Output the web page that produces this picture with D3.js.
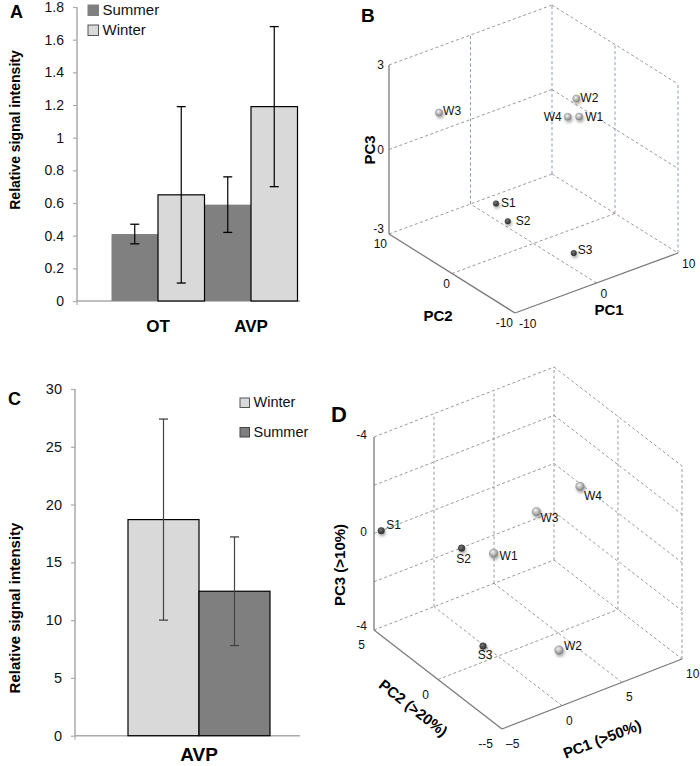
<!DOCTYPE html>
<html><head><meta charset="utf-8">
<script src="https://cdn.jsdelivr.net/npm/d3@7"></script>
<style>
body{margin:0;background:#fff;}
svg text{font-family:"Liberation Sans",Arial,Helvetica,sans-serif;}
</style></head>
<body><svg id="fig" width="700" height="766"></svg>
<script>
// ---------- DATA ----------
// Panel A
const catsA = ["OT", "AVP"];
const seriesA = ["Summer", "Winter"];
const summerA = [0.41, 0.59];
const summerAErr = [0.06, 0.17];
const winterA = [0.65, 1.19];
const winterAErr = [0.54, 0.49];
const ticksA = [0, 0.2, 0.4, 0.6, 0.8, 1, 1.2, 1.4, 1.6, 1.8];
// Panel C
const catsC = ["AVP"];
const seriesC = ["Winter", "Summer"];
const winterC = [18.7];
const winterCErr = [8.7];
const summerC = [12.5];
const summerCErr = [4.7];
const ticksC = [0, 5, 10, 15, 20, 25, 30];
// Panel B (PCA scores)
const namesB = ["W3", "W2", "W4", "W1", "S1", "S2", "S3"];
const pc1B = [-5.4, 6.8, 4.2, 5.6, -4.6, -4.7, 0.3];
const pc2B = [8, 2, 0, 0, 0, -2, -6];
const pc3B = [1.1, 1.14, 1.05, 0.91, -1.09, -1.43, -2.53];
const ticksB1 = [-10, 0, 10], ticksB2 = [-10, 0, 10], ticksB3 = [-3, 0, 3];
// Panel D (PCA scores)
const namesD = ["S1", "S2", "W1", "W3", "W4", "S3", "W2"];
const pc1D = [-4.4, -0.9, 0.7, 6.4, 7.9, -1.25, 2.95];
const pc2D = [5, 2, 1, 3, 1, 0, -2];
const pc3D = [0, 0.17, 0.28, 0.48, -1.1, 3.34, 3.5];
const ticksD1 = [-5, 0, 5, 10], tickLabD1 = ["\u20135", "0", "5", "10"];
const ticksD2 = [5, 0, -5], tickLabD2 = ["5", "0", "--5"];
const ticksD3 = [-4, 0, 4], tickLabD3 = ["-4", "0", "-4"];
const gridD3 = [-4, -2, 0, 2, 4];

const FONT = '"Liberation Sans",Arial,Helvetica,sans-serif';
const svg = d3.select("#fig");
const defs = svg.append("defs");
const g1 = defs.append("radialGradient").attr("id","wball").attr("cx","40%").attr("cy","35%").attr("r","65%");
g1.append("stop").attr("offset","0%").attr("stop-color","#f2f2f2");
g1.append("stop").attr("offset","60%").attr("stop-color","#b0b0b0");
g1.append("stop").attr("offset","100%").attr("stop-color","#808080");
const g2 = defs.append("radialGradient").attr("id","sball").attr("cx","40%").attr("cy","35%").attr("r","65%");
g2.append("stop").attr("offset","0%").attr("stop-color","#777");
g2.append("stop").attr("offset","100%").attr("stop-color","#2b2b2b");
const f = defs.append("filter").attr("id","shadow").attr("x","-100%").attr("y","-100%").attr("width","300%").attr("height","300%");
f.append("feDropShadow").attr("dx",1).attr("dy",2).attr("stdDeviation",1.6).attr("flood-color","#000").attr("flood-opacity",0.35);

// ---------- BAR PANEL ----------
function barPanel(o){
  const g = svg.append("g");
  const y = d3.scaleLinear().domain(o.yDomain).range(o.yRange);
  const x = d3.scaleBand().domain(o.cats).range(o.xRange).padding(0);
  const xs = d3.scaleBand().domain(o.series).range([0, x.bandwidth()]).padding(0);
  const ax = g.append("g").attr("transform",`translate(${o.axisX},0)`)
    .call(d3.axisLeft(y).tickValues(o.ticks).tickSize(4).tickPadding(9).tickFormat(d=>String(d)));
  ax.select(".domain").remove();
  ax.selectAll(".tick line").attr("stroke","#aaa").attr("stroke-width",1.2);
  ax.selectAll(".tick text").attr("font-size",o.tickSize).attr("font-family",FONT).attr("fill","#111");
  g.append("line").attr("x1",o.axisX).attr("x2",o.axisX).attr("y1",y(o.yDomain[0])).attr("y2",y(o.yDomain[1]))
    .attr("stroke","#aaa").attr("stroke-width",1.5);
  g.append("line").attr("x1",o.axisX).attr("x2",o.axisEnd).attr("y1",y(0)).attr("y2",y(0))
    .attr("stroke","#aaa").attr("stroke-width",1.5);
  g.append("line").attr("x1",o.axisX).attr("x2",o.axisX).attr("y1",y(0)).attr("y2",y(0)+4).attr("stroke","#aaa").attr("stroke-width",1.2);
  o.series.forEach((s,si)=>{
    const vals = o.values[si], st = o.styles[si];
    o.cats.forEach((c,ci)=>{
      const x0 = x(c)+xs(s), w = xs.bandwidth();
      g.append("rect").attr("x",x0).attr("y",y(vals[ci])).attr("width",w).attr("height",y(0)-y(vals[ci]))
        .attr("fill",st.fill).attr("stroke",st.stroke).attr("stroke-width",st.stroke==="none"?0:1.2);
    });
  });
  o.series.forEach((s,si)=>{
    const vals = o.values[si], errs = o.errors[si];
    o.cats.forEach((c,ci)=>{
      const cx = x(c)+xs(s)+xs.bandwidth()/2;
      const hi = y(vals[ci]+errs[ci]), lo = y(vals[ci]-errs[ci]);
      g.append("line").attr("x1",cx).attr("x2",cx).attr("y1",hi).attr("y2",lo).attr("stroke",o.errColor).attr("stroke-width",1.2);
      [hi,lo].forEach(yy=>g.append("line").attr("x1",cx-4.5).attr("x2",cx+4.5).attr("y1",yy).attr("y2",yy).attr("stroke",o.errColor).attr("stroke-width",1.3));
    });
  });
  o.cats.forEach(c=>{
    g.append("text").attr("x",x(c)+x.bandwidth()/2).attr("y",o.catY).attr("text-anchor","middle")
      .attr("font-weight","bold").attr("font-size",o.catSize).text(c);
  });
  g.append("text").attr("transform",`translate(${o.titleX},${o.titleY}) rotate(-90)`).attr("text-anchor","middle")
    .attr("font-weight","bold").attr("font-size",o.titleSize).text("Relative signal intensity");
  o.legend.forEach((L,i)=>{
    const st = o.styles[o.series.indexOf(L)];
    g.append("rect").attr("x",o.legX).attr("y",o.legY+i*o.legGap).attr("width",o.legBox).attr("height",o.legBox)
      .attr("fill",st.fill).attr("stroke",st.legStroke).attr("stroke-width",1);
    g.append("text").attr("x",o.legX+o.legBox+4).attr("y",o.legY+i*o.legGap+o.legBox-0.5)
      .attr("font-size",o.legSize).attr("fill","#111").text(L);
  });
  g.append("text").attr("x",o.letterX).attr("y",o.letterY).attr("font-weight","bold").attr("font-size",o.letterSize).text(o.letter);
}

barPanel({
  cats: catsA, series: seriesA, values:[summerA, winterA], errors:[summerAErr, winterAErr],
  styles:[{fill:"#808080",stroke:"none",legStroke:"#808080"},{fill:"#d9d9d9",stroke:"#000",legStroke:"#555"}],
  yDomain:[0,1.8], yRange:[301,7], ticks:ticksA, tickSize:14, xRange:[111.5,297.5], axisX:77, axisEnd:300,
  errColor:"#000", catY:332, catSize:17, titleX:20, titleY:130, titleSize:14,
  legend:["Summer","Winter"], legX:88, legY:5, legGap:20, legBox:10.5, legSize:15,
  letter:"A", letterX:10, letterY:18, letterSize:18
});
barPanel({
  cats: catsC, series: seriesC, values:[winterC, summerC], errors:[winterCErr, summerCErr],
  styles:[{fill:"#d9d9d9",stroke:"#000",legStroke:"#555"},{fill:"#7f7f7f",stroke:"#000",legStroke:"#444"}],
  yDomain:[0,30], yRange:[735.7,389], ticks:ticksC, tickSize:14.5, xRange:[128,270], axisX:75, axisEnd:300,
  errColor:"#444", catY:761, catSize:19, titleX:20, titleY:608, titleSize:15,
  legend:["Winter","Summer"], legX:240, legY:398, legGap:29.5, legBox:9.5, legSize:14.5,
  letter:"C", letterX:8, letterY:405, letterSize:18
});

// ---------- 3D PANEL ----------
function pca3D(o){
  const g = svg.append("g");
  const s1 = d3.scaleLinear().domain(o.d1).range([0,1]);
  const s2 = d3.scaleLinear().domain(o.d2).range([0,1]);
  const s3 = d3.scaleLinear().domain(o.d3).range([0,1]);
  const P = (p1,p2,p3)=>{
    const a=s1(p1), b=s2(p2), c=s3(p3);
    return [o.front[0]+a*o.e1[0]+b*o.e2[0]+c*o.e3[0], o.front[1]+a*o.e1[1]+b*o.e2[1]+c*o.e3[1]];
  };
  const seg = (A,B,color,dash,w)=>g.append("line").attr("x1",A[0]).attr("y1",A[1]).attr("x2",B[0]).attr("y2",B[1])
    .attr("stroke",color).attr("stroke-width",w||0.9).attr("stroke-dasharray",dash||null);
  const [a1lo,a1hi]=o.d1, [a2lo,a2hi]=o.d2, [a3lo,a3hi]=o.d3;
  const D = o.dash;
  o.grid3.forEach(v=>seg(P(a1lo,a2hi,v),P(a1hi,a2hi,v),o.gridColor,D));
  o.grid3.forEach(v=>seg(P(a1hi,a2hi,v),P(a1hi,a2lo,v),o.gridColor,D));
  o.vert1.forEach(v=>seg(P(v,a2hi,a3lo),P(v,a2hi,a3hi),o.vertColor,D));
  o.vert2.forEach(v=>seg(P(a1hi,v,a3lo),P(a1hi,v,a3hi),o.vertColor,D));
  o.floor1.forEach(v=>seg(P(v,a2lo,a3lo),P(v,a2hi,a3lo),o.gridColor,D));
  o.floor2.forEach(v=>seg(P(a1lo,v,a3lo),P(a1hi,v,a3lo),o.gridColor,D));
  seg(P(a1lo,a2hi,a3lo),P(a1lo,a2hi,a3hi),"#7a7a7a",null,1.3);
  seg(P(a1lo,a2lo,a3lo),P(a1lo,a2hi,a3lo),"#7a7a7a",null,1.3);
  seg(P(a1lo,a2lo,a3lo),P(a1hi,a2lo,a3lo),"#7a7a7a",null,1.3);
  const tl = (pt,txt,anchor,dx,dy)=>g.append("text").attr("x",pt[0]+dx).attr("y",pt[1]+dy)
    .attr("text-anchor",anchor).attr("font-size",o.tickSize).attr("fill","#111").text(txt);
  o.t3.forEach((v,i)=>tl(P(a1lo,a2hi,v),o.l3[i],"end",o.t3dx,(o.t3dy[i])));
  o.t2.forEach((v,i)=>tl(P(a1lo,v,a3lo),o.l2[i],"end",o.t2dx,o.t2dy));
  o.t1.forEach((v,i)=>tl(P(v,a2lo,a3lo),o.l1[i],"start",o.t1dx,o.t1dy));
  o.titles.forEach(T=>g.append("text").attr("transform",`translate(${T.x},${T.y}) rotate(${T.r})`)
    .attr("text-anchor","middle").attr("font-weight","bold").attr("font-size",T.size).text(T.text));
  o.names.forEach((n,i)=>{
    const p = P(o.v1[i],o.v2[i],o.v3[i]);
    const isW = n[0]==="W";
    g.append("circle").attr("cx",p[0]).attr("cy",p[1]).attr("r",isW?o.rW:o.rS)
      .attr("fill",isW?"url(#wball)":"url(#sball)").attr("stroke",isW?"#8a8a8a":"#333").attr("stroke-width",0.5)
      .attr("filter","url(#shadow)");
    const L = o.lab[i];
    g.append("text").attr("x",p[0]+L[1]).attr("y",p[1]+L[2]).attr("text-anchor",L[0])
      .attr("font-size",o.labSize).attr("fill","#111").text(n);
  });
  g.append("text").attr("x",o.letter[1]).attr("y",o.letter[2]).attr("font-weight","bold").attr("font-size",o.letter[3]).text(o.letter[0]);
}

pca3D({
  d1:[-10,10], d2:[-10,10], d3:[-3,3], front:[515,313], e1:[163,-60], e2:[-126,-79], e3:[0,-169],
  grid3:[-3,0,3], vert1:[0,10], vert2:[0,-10], floor1:[0], floor2:[0],
  gridColor:"#8f8f8f", vertColor:"#7f90b8", dash:"3,2.5",
  t3:ticksB3, l3:ticksB3.map(String), t3dx:-5, t3dy:[-1,4,4],
  t2:ticksB2, l2:ticksB2.map(String), t2dx:-2, t2dy:14,
  t1:ticksB1, l1:ticksB1.map(String), t1dx:4, t1dy:15, tickSize:12,
  titles:[{text:"PC3",x:375,y:150,r:-90,size:15},{text:"PC2",x:438,y:321,r:0,size:15},{text:"PC1",x:609,y:315,r:0,size:15}],
  names:namesB, v1:pc1B, v2:pc2B, v3:pc3B, rW:3.6, rS:2.8, labSize:12,
  lab:[["start",4,2],["start",4,3],["end",-6,4],["start",6,4],["start",5,3],["start",8,4],["start",4,1]],
  letter:["B",361,22,19]
});

pca3D({
  d1:[-5,10], d2:[-5,5], d3:[4,-4], front:[502,729], e1:[180,-70], e2:[-128,-99], e3:[0,-193],
  grid3:gridD3, vert1:[0,5,10], vert2:[0,-5], floor1:[0,5], floor2:[0],
  gridColor:"#8f8f8f", vertColor:"#8f8f8f", dash:"3,2.5",
  t3:ticksD3, l3:tickLabD3, t3dx:-7, t3dy:[2,2,0],
  t2:ticksD2, l2:tickLabD2, t2dx:-9, t2dy:19,
  t1:ticksD1, l1:tickLabD1, t1dx:4, t1dy:19, tickSize:12,
  titles:[{text:"PC3 (>10%)",x:345,y:565,r:-90,size:15},{text:"PC2 (>20%)",x:410,y:712,r:38,size:15},{text:"PC1 (>50%)",x:604,y:744,r:-21,size:15}],
  names:namesD, v1:pc1D, v2:pc2D, v3:pc3D, rW:4.3, rS:3.3, labSize:12,
  lab:[["start",5,-2],["middle",2,15],["start",6,7],["start",4,10],["start",4,14],["middle",2,13],["start",5,0]],
  letter:["D",331,422,22]
});
</script></body></html>
